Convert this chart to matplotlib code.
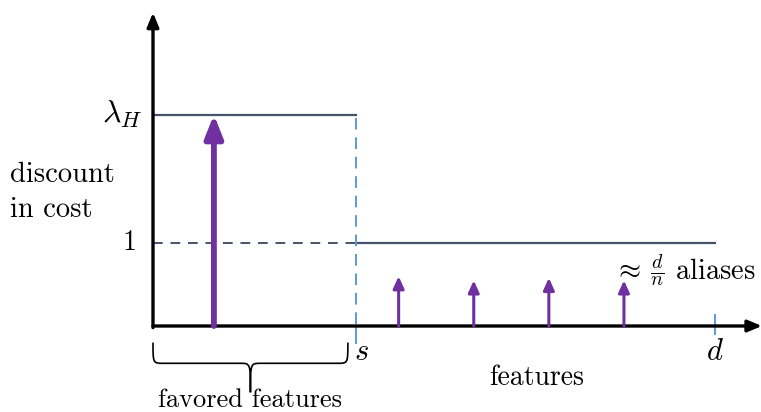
import numpy as np
import matplotlib.pyplot as plt
from matplotlib.path import Path
from matplotlib.patches import PathPatch

plt.rcParams['mathtext.fontset'] = 'cm'
plt.rcParams['font.family'] = 'cmr10'

# levels of the discount curve
s_pos = 10.0
d_pos = 27.7
lam_H = 2.55
base_level = 1.0

# favored feature arrow and alias arrows
favored_x = [3.0]
favored_h = [lam_H]
alias_x = [12.1, 15.8, 19.5, 23.2]
alias_h = [0.60, 0.55, 0.58, 0.55]

purple = '#7030a0'
slate = '#44546a'
blue = '#5b9bd5'

fig = plt.figure(figsize=(7.61, 4.12), dpi=100)
ax = fig.add_axes([153/761, 86/412, 609/761, 315/412])
ax.set_xlim(0, 30)
ax.set_ylim(0, 3.8)
ax.axis('off')

# axes arrows
ax.annotate('', xy=(30, 0), xytext=(0, 0), annotation_clip=False,
            arrowprops=dict(arrowstyle='-|>,head_width=0.25,head_length=0.6',
                            mutation_scale=14, lw=2.4, color='black',
                            shrinkA=0, shrinkB=0))
ax.annotate('', xy=(0, 3.78), xytext=(0, -0.02), annotation_clip=False,
            arrowprops=dict(arrowstyle='-|>,head_width=0.25,head_length=0.6',
                            mutation_scale=14, lw=2.4, color='black',
                            shrinkA=0, shrinkB=0))

# discount curve
ax.plot([0, s_pos], [lam_H, lam_H], color=slate, lw=1.6, clip_on=False)
ax.plot([0, s_pos], [base_level, base_level], color=slate, lw=1.4,
        ls=(0, (5, 4)), clip_on=False)
ax.plot([s_pos, d_pos], [base_level, base_level], color=slate, lw=1.6,
        clip_on=False)
ax.plot([s_pos, s_pos], [0.02, lam_H], color=blue, lw=1.4,
        ls=(0, (6, 4)), clip_on=False)
ax.plot([s_pos, s_pos], [-0.02, -0.2], color=blue, lw=1.4, clip_on=False)
ax.plot([d_pos, d_pos], [-0.1, 0.13], color=blue, lw=1.4, clip_on=False)

# arrows
for x, h in zip(favored_x, favored_h):
    ax.annotate('', xy=(x, h), xytext=(x, 0), annotation_clip=False,
                arrowprops=dict(arrowstyle='-|>,head_width=0.27,head_length=0.68',
                                mutation_scale=20, lw=4.2, color=purple,
                                shrinkA=0, shrinkB=0))
for x, h in zip(alias_x, alias_h):
    ax.annotate('', xy=(x, h), xytext=(x, 0), annotation_clip=False,
                arrowprops=dict(arrowstyle='-|>,head_width=0.25,head_length=0.55',
                                mutation_scale=13, lw=2.2, color=purple,
                                shrinkA=0, shrinkB=0))

# brace under favored features
bx0, bx1 = 0.0, 9.6
bm = (bx0 + bx1) / 2
yt, yb, ytip = -0.2, -0.45, -0.8
verts = [(bx0, yt),
         (bx0, yb), (bx0, yb), (bx0 + 0.5, yb),
         (bm - 0.5, yb),
         (bm, yb), (bm, yb), (bm, ytip),
         (bm, yb), (bm, yb), (bm + 0.5, yb),
         (bx1 - 0.5, yb),
         (bx1, yb), (bx1, yb), (bx1, yt)]
codes = [Path.MOVETO,
         Path.CURVE4, Path.CURVE4, Path.CURVE4,
         Path.LINETO,
         Path.CURVE4, Path.CURVE4, Path.CURVE4,
         Path.CURVE4, Path.CURVE4, Path.CURVE4,
         Path.LINETO,
         Path.CURVE4, Path.CURVE4, Path.CURVE4]
ax.add_patch(PathPatch(Path(verts, codes), fill=False, lw=1.2,
                       color='black', clip_on=False))

# labels
ax.text(-0.5, lam_H, r'$\lambda_H$', fontsize=23, ha='right', va='center')
ax.text(-0.8, base_level, '1', fontsize=20, ha='right', va='center')
ax.text(-7.05, 1.61, 'discount\nin cost', fontsize=20.5, ha='left',
        va='center', linespacing=1.45)
ax.text(s_pos - 0.1, -0.32, r'$s$', fontsize=22, ha='left', va='center')
ax.text(d_pos, -0.32, r'$d$', fontsize=22, ha='center', va='center')
ax.text(18.9, -0.63, 'features', fontsize=20, ha='center', va='center')
ax.text(bm, -0.9, 'favored features', fontsize=19, ha='center', va='center')
ax.text(22.7, 0.67, r'$\approx\,\frac{d}{n}$ aliases', fontsize=20.5,
        ha='left', va='center')

fig.savefig('out.png', dpi=100)
